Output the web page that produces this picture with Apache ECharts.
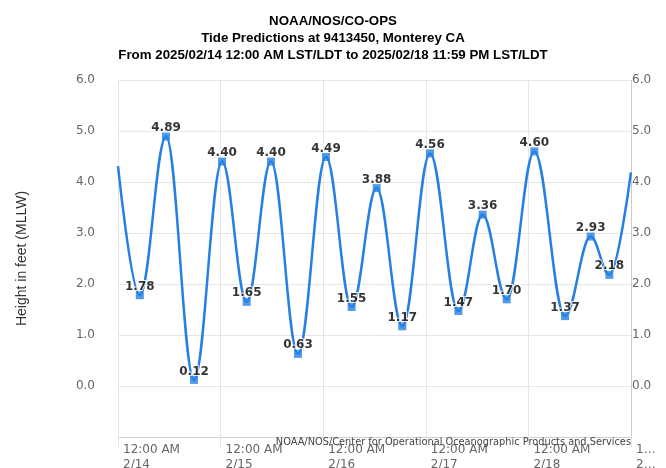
<!DOCTYPE html>
<html>
<head>
<meta charset="utf-8">
<script src="https://cdn.jsdelivr.net/npm/echarts@6/dist/echarts.min.js"></script>
<style>
  html, body { margin: 0; padding: 0; background: #fff; }
  #chart { width: 666px; height: 468px; }
</style>
</head>
<body>
<div id="chart"></div>
<script>
// ---- Data ----
const titleLines = [
  'NOAA/NOS/CO-OPS',
  'Tide Predictions at 9413450, Monterey CA',
  'From 2025/02/14 12:00 AM LST/LDT to 2025/02/18 11:59 PM LST/LDT'
];
const yAxisName = 'Height in feet (MLLW)';
const creditsText = 'NOAA/NOS/Center for Operational Oceanographic Products and Services';

// High / low tide predictions (time, feet)
const hiloTimes = [
  '2025-02-14 05:06', '2025-02-14 11:14', '2025-02-14 17:47',
  '2025-02-15 00:20', '2025-02-15 06:06', '2025-02-15 11:47', '2025-02-15 18:06',
  '2025-02-16 00:39', '2025-02-16 06:39', '2025-02-16 12:30', '2025-02-16 18:30',
  '2025-02-17 00:59', '2025-02-17 07:37', '2025-02-17 13:18', '2025-02-17 18:55',
  '2025-02-18 01:23', '2025-02-18 08:34', '2025-02-18 14:34', '2025-02-18 18:56'
];
const hiloValues = [
  1.78, 4.89, 0.12,
  4.40, 1.65, 4.40, 0.63,
  4.49, 1.55, 3.88, 1.17,
  4.56, 1.47, 3.36, 1.70,
  4.60, 1.37, 2.93, 2.18
];
// Curve values at the window edges
const edgeTimes = ['2025-02-14 00:00', '2025-02-18 23:59'];
const edgeValues = [4.31, 4.19];

const axisStart = '2025-02-14 00:00';
const axisEnd = '2025-02-19 00:00';
const yMin = -1, yMax = 6;

// ---- Helpers ----
function toUTC(s) {
  const [d, t] = s.split(' ');
  const [Y, M, D] = d.split('-').map(Number);
  const [h, m] = t.split(':').map(Number);
  return Date.UTC(Y, M - 1, D, h, m);
}
const DAY = 86400000;
const xMin = toUTC(axisStart);
const xMax = toUTC(axisEnd);

const curveData = [[toUTC(edgeTimes[0]), edgeValues[0]]]
  .concat(hiloTimes.map((t, i) => [toUTC(t), hiloValues[i]]))
  .concat([[toUTC(edgeTimes[1]), edgeValues[1]]]);
const markerData = hiloTimes.map((t, i) => [toUTC(t), hiloValues[i]]);

const blue = '#2680e3';
const gridColor = '#e6e6e6';
const labelFont = 'DejaVu Sans';

const chart = echarts.init(document.getElementById('chart'), null, { renderer: 'canvas' });
chart.setOption({
  animation: false,
  backgroundColor: '#fff',
  title: {
    text: titleLines.join('\n'),
    left: 'center',
    top: 8,
    textStyle: {
      fontFamily: 'Liberation Sans',
      fontWeight: 'bold',
      fontSize: 13.3,
      lineHeight: 17,
      color: '#000'
    }
  },
  grid: { left: 118, right: 35, top: 80, bottom: 31, containLabel: false, outerBoundsMode: 'none' },
  xAxis: {
    type: 'value',
    min: xMin,
    max: xMax,
    interval: DAY,
    axisLine: { show: true, onZero: false, lineStyle: { color: '#d0d0d0', width: 1 } },
    axisTick: { show: true, length: 10, lineStyle: { color: gridColor } },
    splitLine: { show: true, lineStyle: { color: gridColor, width: 1 } },
    axisLabel: {
      show: true,
      showMinLabel: true,
      showMaxLabel: true,
      hideOverlap: false,
      align: 'left',
      margin: 5,
      padding: [0, 0, 0, 5],
      fontFamily: labelFont,
      fontSize: 12,
      lineHeight: 15,
      color: '#666',
      formatter: function (v) {
        if (v >= xMax) return '1…\n2…';
        const d = new Date(v);
        return '12:00 AM\n' + (d.getUTCMonth() + 1) + '/' + d.getUTCDate();
      }
    }
  },
  yAxis: [
    {
      type: 'value',
      position: 'left',
      min: yMin, max: yMax, interval: 1,
      name: yAxisName,
      nameLocation: 'middle',
      nameGap: 89,
      nameRotate: 90,
      nameTextStyle: { fontFamily: 'Liberation Sans', fontSize: 14, color: '#333' },
      axisLine: { show: false },
      axisTick: { show: false },
      splitLine: { show: true, lineStyle: { color: gridColor, width: 1 } },
      axisLabel: {
        margin: 23,
        fontFamily: labelFont,
        fontSize: 12,
        color: '#666',
        formatter: v => (v < 0 ? '' : v.toFixed(1))
      }
    },
    {
      type: 'value',
      position: 'right',
      min: yMin, max: yMax, interval: 1,
      axisLine: { show: true, onZero: false, lineStyle: { color: '#cccccc', width: 1 } },
      axisTick: { show: false },
      splitLine: { show: false },
      axisLabel: {
        margin: 1,
        fontFamily: labelFont,
        fontSize: 12,
        color: '#666',
        formatter: v => (v < 0 ? '' : v.toFixed(1))
      }
    }
  ],
  series: [
    {
      type: 'line',
      data: curveData,
      smooth: 0.38,
      smoothMonotone: 'x',
      showSymbol: false,
      symbol: 'none',
      lineStyle: { color: blue, width: 2.5 },
      z: 2
    },
    {
      type: 'scatter',
      data: markerData,
      symbol: 'rect',
      symbolSize: 8,
      itemStyle: { color: blue },
      label: {
        show: true,
        position: 'inside',
        offset: [0, -8.5],
        fontFamily: labelFont,
        fontWeight: 'bold',
        fontSize: 12,
        color: '#000',
        textBorderColor: '#fff',
        textBorderWidth: 2,
        formatter: p => p.value[1].toFixed(2)
      },
      z: 3
    }
  ],
  graphic: [
    {
      type: 'text',
      right: 35,
      top: 437,
      style: {
        text: creditsText,
        fontFamily: labelFont,
        fontSize: 9.8,
        fill: '#444'
      },
      z: 10
    }
  ]
});
</script>
</body>
</html>
